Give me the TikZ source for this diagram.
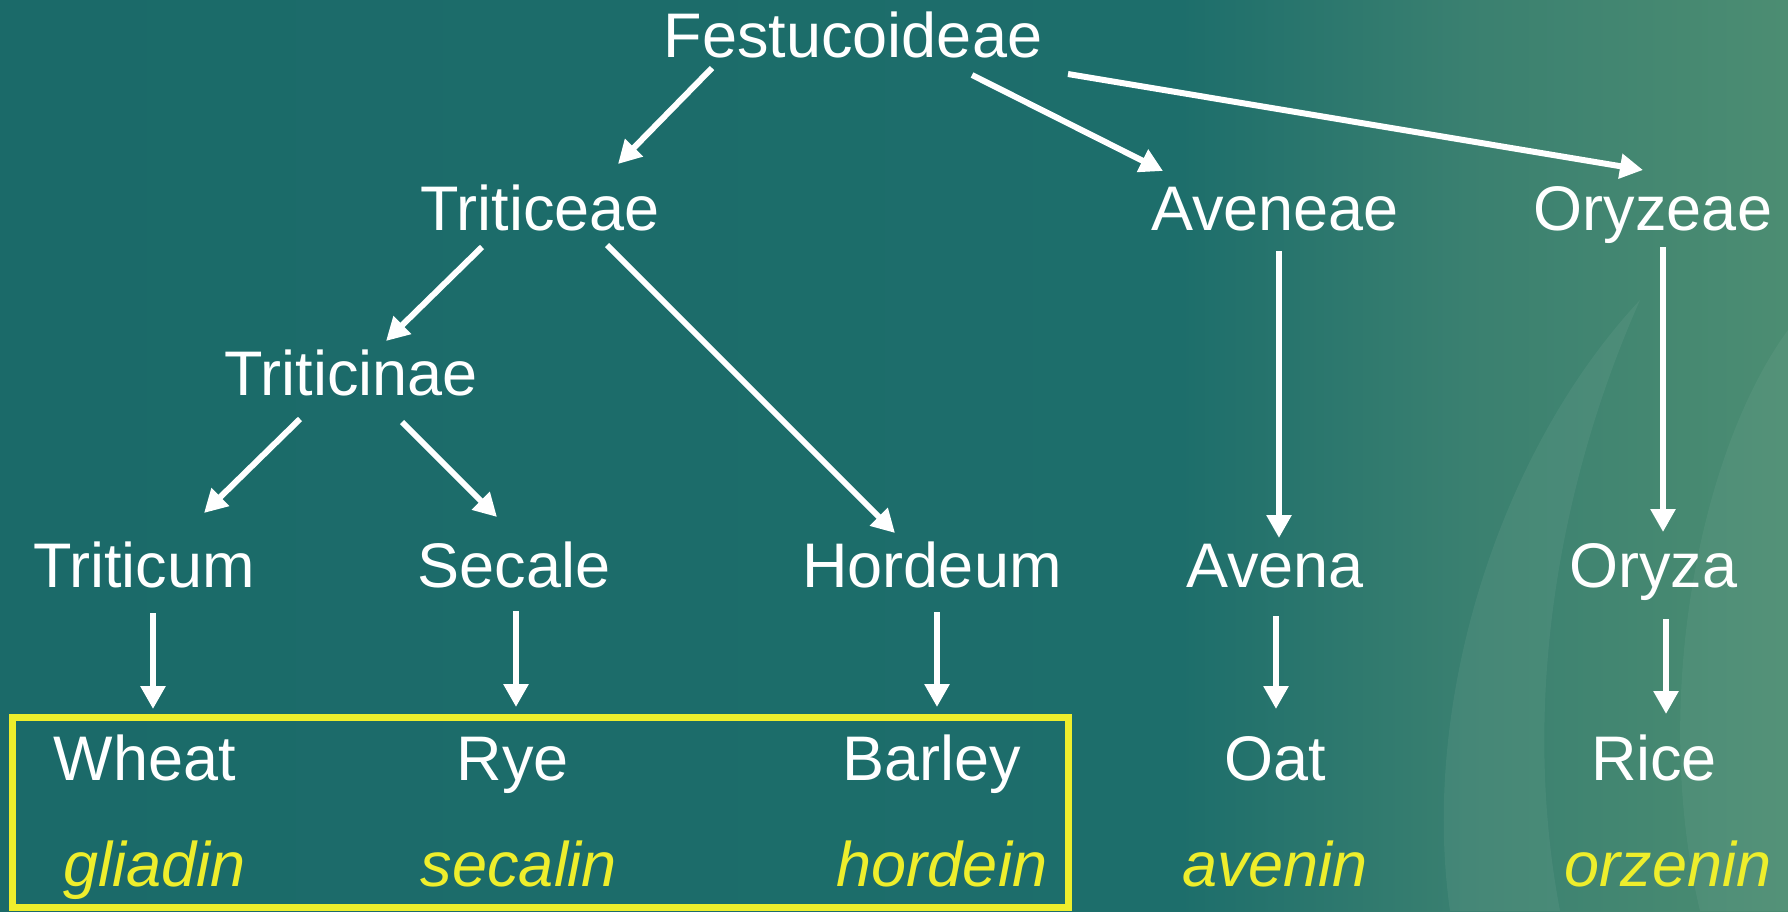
\documentclass[tikz,border=0pt]{standalone}
\usepackage{fontspec}
\setmainfont{Liberation Sans}
\usetikzlibrary{arrows.meta,calc}
\definecolor{tealA}{HTML}{1B6A69}
\definecolor{tealB}{HTML}{1D6E6B}
\definecolor{greenB}{HTML}{3A8070}
\definecolor{greenC}{HTML}{4C8D72}
\definecolor{boxyellow}{HTML}{EEEE2C}
\pgfdeclarehorizontalshading{bgshade}{100bp}{color(0bp)=(tealA); color(25bp)=(tealA); color(58bp)=(tealB); color(66bp)=(greenB); color(75bp)=(greenC); color(100bp)=(greenC)}
\tikzset{
  lbl/.style={anchor=base, inner sep=0pt, text=white, font=\fontsize{63}{70}\selectfont},
  prot/.style={anchor=base, inner sep=0pt, text=boxyellow, font=\fontsize{63}{70}\selectfont\itshape},
  arr/.style={draw=white, line width=6pt, -{Triangle[width=24pt,length=23pt]}},
  gbox/.style={draw=boxyellow, line width=7pt}
}
\begin{document}
\begin{tikzpicture}[x=1pt,y=-1pt]
\useasboundingbox (0,0) rectangle (1788,911);
\shade[shading=bgshade] (0,0) rectangle (1788,911);
% faint leaf highlights of the photo background
\begin{scope}[opacity=0.09]
\fill[white!60!greenC] (1450,911) .. controls (1420,700) and (1500,450) .. (1640,300) .. controls (1560,480) and (1520,700) .. (1560,911) -- cycle;
\fill[white!50!greenC] (1700,911) .. controls (1650,700) and (1700,450) .. (1788,330) -- (1788,911) -- cycle;
\end{scope}

% row 1
\node[lbl] (fest) at (853,57) {Festucoideae};
% row 2
\node[lbl] (trit) at (540,230) {Triticeae};
\node[lbl] (aven) at (1275,230) {Aveneae};
\node[lbl] (oryz) at (1653,230) {Oryzeae};
% row 3
\node[lbl] (tcin) at (351,395) {Triticinae};
% row 4
\node[lbl] (tcum) at (144,587) {Triticum};
\node[lbl] (sec) at (514,587) {Secale};
\node[lbl] (hord) at (932,587) {Hordeum};
\node[lbl] (avena) at (1275,587) {Avena};
\node[lbl] (oryza) at (1653,587) {Oryza};
% row 5
\node[lbl] (wheat) at (145,780) {Wheat};
\node[lbl] (rye) at (513,780) {Rye};
\node[lbl] (barley) at (932,780) {Barley};
\node[lbl] (oat) at (1275,780) {Oat};
\node[lbl] (rice) at (1654,780) {Rice};
% row 6
\node[prot] (glia) at (155,886) {gliadin};
\node[prot] (seca) at (519,886) {secalin};
\node[prot] (hordn) at (942,886) {hordein};
\node[prot] (aveni) at (1275,886) {avenin};
\node[prot] (orze) at (1668,886) {orzenin};

% yellow box
\draw[gbox] (12,717) rectangle (1068,907);

% connectors
\draw[arr] ($(fest.base)+(-141,11)$) -- ($(trit.base)+(78,-66)$);
\draw[arr] ($(fest.base)+(119,18)$) -- ($(aven.base)+(-112,-59)$);
\draw[arr] ($(fest.base)+(215,17)$) -- ($(oryz.base)+(-10,-60)$);
\draw[arr] ($(trit.base)+(-58,17)$) -- ($(tcin.base)+(35,-54)$);
\draw[arr] ($(trit.base)+(67,15)$) -- ($(hord.base)+(-37,-54)$);
\draw[arr] ($(tcin.base)+(-51,24)$) -- ($(tcum.base)+(60,-74)$);
\draw[arr] ($(tcin.base)+(51,27)$) -- ($(sec.base)+(-17,-70)$);
\draw[arr] ($(aven.base)+(4,21)$) -- ($(avena.base)+(4,-49)$);
\draw[arr] ($(oryz.base)+(10,17)$) -- ($(oryza.base)+(10,-55)$);
\draw[arr] ($(tcum.base)+(9,26)$) -- ($(wheat.base)+(8,-71)$);
\draw[arr] ($(sec.base)+(2,24)$) -- ($(rye.base)+(3,-73)$);
\draw[arr] ($(hord.base)+(5,25)$) -- ($(barley.base)+(5,-73)$);
\draw[arr] ($(avena.base)+(1,29)$) -- ($(oat.base)+(1,-71)$);
\draw[arr] ($(oryza.base)+(13,32)$) -- ($(rice.base)+(12,-66)$);
\end{tikzpicture}
\end{document}
